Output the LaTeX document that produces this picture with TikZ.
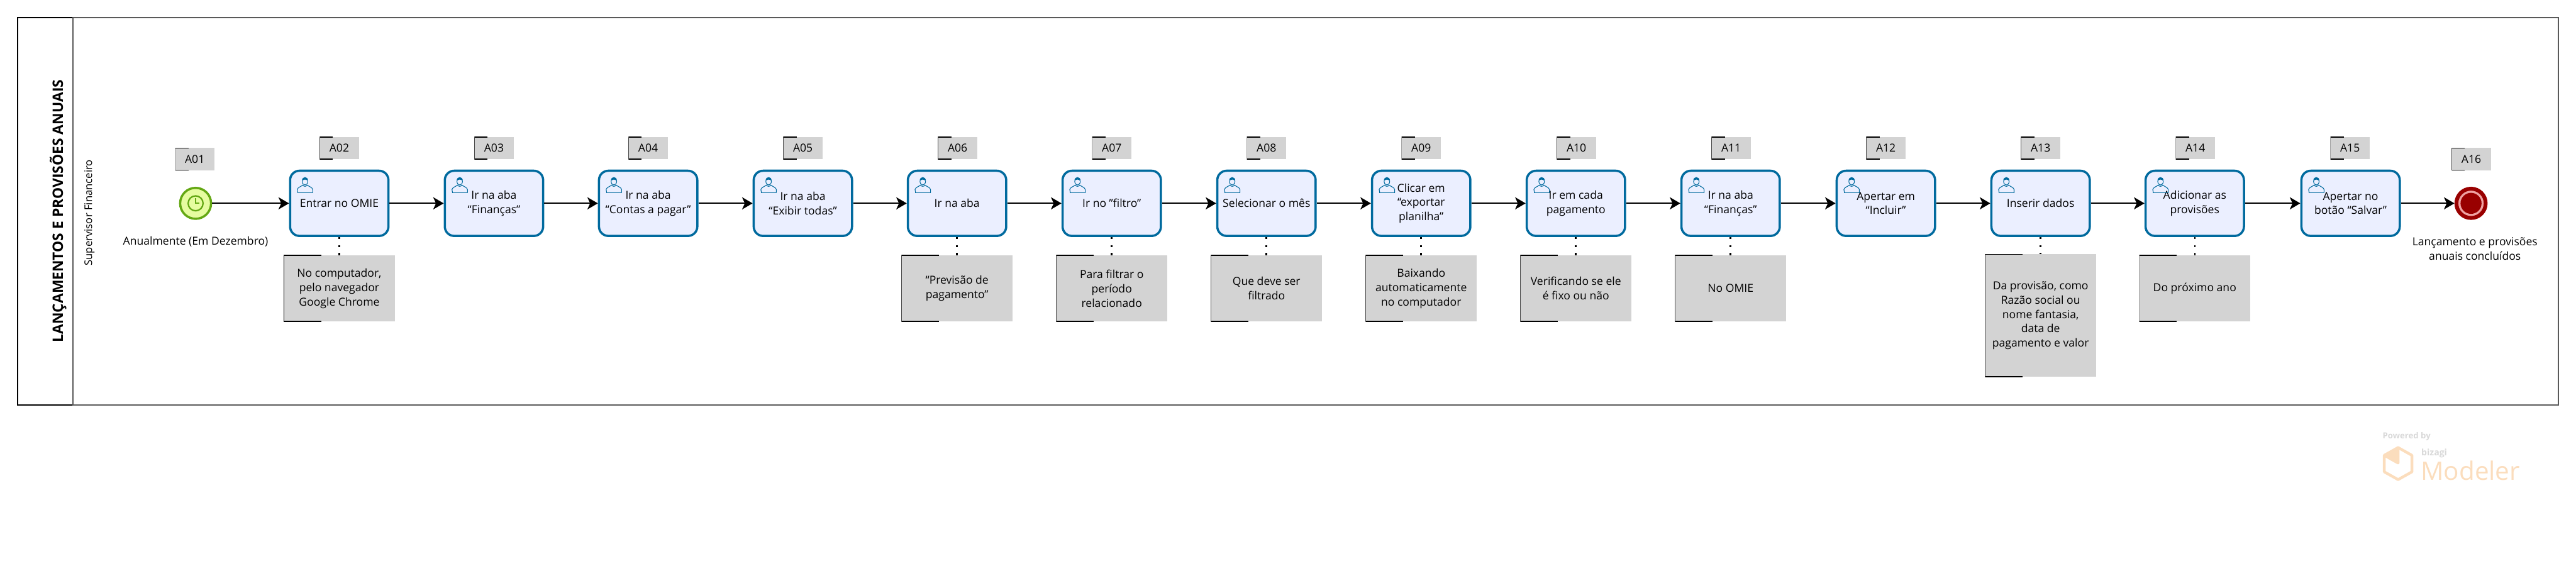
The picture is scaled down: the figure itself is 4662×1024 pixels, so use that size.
\documentclass[tikz,border=0pt]{standalone}
\usepackage{fontspec}
\setmainfont{Open Sans}
\usetikzlibrary{arrows.meta, positioning, calc}
\definecolor{cblue}{HTML}{006A9E}
\definecolor{ctask}{HTML}{EBEFFF}
\definecolor{cnote}{HTML}{D3D3D3}
\definecolor{cgrey}{HTML}{595959}
\definecolor{cgreen}{HTML}{64A814}
\definecolor{clime}{HTML}{E6FCA0}
\definecolor{cred}{HTML}{990000}
\definecolor{cpink}{HTML}{EFA3A3}
\definecolor{clogo}{HTML}{FBDDBD}
\definecolor{clogogrey}{HTML}{D8D8D8}
\newcommand{\bodyfont}{\fontsize{20pt}{26pt}\selectfont}
\tikzset{
  usericon/.pic={
    \draw[cblue, line width=1.2pt] (16,42) -- (15,36) .. controls (16,32) and (21,31) .. (25,28) .. controls (27,31) and (31,31) .. (33,28)
      .. controls (37,31) and (42,32) .. (43,36) -- (43,42);
    \draw[cblue, line width=1.2pt] (15,42) -- (43,42);
    \draw[cblue, line width=1.2pt] (24,21) .. controls (24,30) and (34,30) .. (34,21);
    \fill[cblue] (23.5,21) .. controls (23,11) and (35,11) .. (34.5,21) .. controls (31,17) and (27,17) .. (23.5,21);
  },
  taskbox/.style={draw=cblue, fill=ctask, line width=4pt, rounded corners=17pt, align=center, inner sep=0pt,
    minimum width=178pt, minimum height=118pt, font=\bodyfont,
    append after command={pic at (\tikzlastnode.north west) {usericon}}},
  tagbox/.style={fill=cnote, minimum width=71pt, minimum height=40pt, inner sep=0pt, font=\bodyfont,
    path picture={\draw[line width=2pt] ($(path picture bounding box.north west)+(24,0)$) -- (path picture bounding box.north west)
      -- (path picture bounding box.south west) -- ++(24,0);}},
  notebox/.style={fill=cnote, minimum width=201pt, minimum height=120pt, inner sep=0pt, align=center, font=\bodyfont,
    path picture={\draw[line width=2pt] ($(path picture bounding box.north west)+(68,0)$) -- (path picture bounding box.north west)
      -- (path picture bounding box.south west) -- ++(68,0);}},
  label/.style={align=center, inner sep=0pt, font=\bodyfont},
  arrow/.style={-{Stealth[length=19pt, width=22pt, inset=5pt]}, line width=2.6pt},
  assoc/.style={line width=3pt, dash pattern=on 4pt off 10.5pt},
  startevent/.style={circle, draw=cgreen, fill=clime, line width=4pt, minimum size=56pt, inner sep=0pt,
    path picture={
      \draw[cgreen, line width=2.6pt] (path picture bounding box.center) circle (13.5pt);
      \draw[cgreen, line width=2.6pt] ($(path picture bounding box.center)+(0,-9)$) -- (path picture bounding box.center) -- ++(7,0);}},
  endevent/.style={circle, draw=cred, fill=cpink, line width=7pt, minimum size=53pt, inner sep=0pt,
    path picture={\fill[cred] (path picture bounding box.center) circle (19pt);}},
}

\begin{document}
\begin{tikzpicture}[x=1pt, y=-1pt]
  \useasboundingbox (0,0) rectangle (4662,1024);
  % pool
  \node[draw=black, line width=3pt, minimum width=100pt, minimum height=701pt, inner sep=0pt] (header) at (82,382.5) {};
  \node[draw=cgrey, line width=3pt, minimum width=4498pt, minimum height=701pt, inner sep=0pt] (lane) at (2381,382.5) {};
  \node[rotate=90, font=\fontsize{26pt}{30pt}\selectfont\bfseries, inner sep=0pt] (title) at (105,382) {LANÇAMENTOS E PROVISÕES ANUAIS};
  \node[rotate=90, font=\fontsize{19pt}{26pt}\selectfont, inner sep=0pt] (role) at (162,385) {Supervisor Financeiro};

  % events
  \node[startevent] (a01) at (354,368) {};
  \node[endevent] (a16) at (4472,368) {};
  \node[label] (l01) at (354,437) {Anualmente (Em Dezembro)};
  \node[label] (l16) at (4479,450) {Lançamento e provisões\\anuais concluídos};

  % tasks
  \node[taskbox] (a02) at (614,368) {Entrar no OMIE};
  \node[taskbox] (a03) at (894,368) {Ir na aba\\“Finanças”};
  \node[taskbox] (a04) at (1173,368) {Ir na aba\\“Contas a pagar”};
  \node[taskbox] (a05) at (1453,368) {Ir na aba\\“Exibir todas”};
  \node[taskbox] (a06) at (1732,368) {Ir na aba};
  \node[taskbox] (a07) at (2012,368) {Ir no "filtro"};
  \node[taskbox] (a08) at (2292,368) {Selecionar o mês};
  \node[taskbox] (a09) at (2572,368) {Clicar em\\“exportar\\planilha”};
  \node[taskbox] (a10) at (2852,368) {Ir em cada\\pagamento};
  \node[taskbox] (a11) at (3132,368) {Ir na aba\\“Finanças”};
  \node[taskbox] (a12) at (3413,368) {Apertar em\\“Incluir”};
  \node[taskbox] (a13) at (3693,368) {Inserir dados};
  \node[taskbox] (a14) at (3972,368) {Adicionar as\\provisões};
  \node[taskbox] (a15) at (4254,368) {Apertar no\\botão “Salvar”};

  % codes
  \node[tagbox] (c01) at (352.5,288) {A01};
  \node[tagbox] (c02) at (614,268) {A02};
  \node[tagbox] (c03) at (894,268) {A03};
  \node[tagbox] (c04) at (1173,268) {A04};
  \node[tagbox] (c05) at (1453,268) {A05};
  \node[tagbox] (c06) at (1733,268) {A06};
  \node[tagbox] (c07) at (2012,268) {A07};
  \node[tagbox] (c08) at (2292,268) {A08};
  \node[tagbox] (c09) at (2572,268) {A09};
  \node[tagbox] (c10) at (2853,268) {A10};
  \node[tagbox] (c11) at (3133,268) {A11};
  \node[tagbox] (c12) at (3413,268) {A12};
  \node[tagbox] (c13) at (3693,268) {A13};
  \node[tagbox] (c14) at (3973,268) {A14};
  \node[tagbox] (c15) at (4253,268) {A15};
  \node[tagbox] (c16) at (4472.5,288) {A16};

  % notes
  \node[notebox] (n02) at (614,522) {No computador,\\pelo navegador\\Google Chrome};
  \node[notebox] (n06) at (1732,522) {“Previsão de\\pagamento”};
  \node[notebox] (n07) at (2012,522) {Para filtrar o\\período\\relacionado};
  \node[notebox] (n08) at (2292,522) {Que deve ser\\filtrado};
  \node[notebox] (n09) at (2572,522) {Baixando\\automaticamente\\no computador};
  \node[notebox] (n10) at (2852,522) {Verificando se ele\\é fixo ou não};
  \node[notebox] (n11) at (3132,522) {No OMIE};
  \node[notebox, minimum height=222pt] (n13) at (3693,571) {Da provisão, como\\Razão social ou\\nome fantasia,\\data de\\pagamento e valor};
  \node[notebox] (n14) at (3972,522) {Do próximo ano};

  % flow
  \draw[arrow] (a01) -- (a02);
  \draw[arrow] (a02) -- (a03);
  \draw[arrow] (a03) -- (a04);
  \draw[arrow] (a04) -- (a05);
  \draw[arrow] (a05) -- (a06);
  \draw[arrow] (a06) -- (a07);
  \draw[arrow] (a07) -- (a08);
  \draw[arrow] (a08) -- (a09);
  \draw[arrow] (a09) -- (a10);
  \draw[arrow] (a10) -- (a11);
  \draw[arrow] (a11) -- (a12);
  \draw[arrow] (a12) -- (a13);
  \draw[arrow] (a13) -- (a14);
  \draw[arrow] (a14) -- (a15);
  \draw[arrow] (a15) -- (a16);
  \draw[assoc] (a02) -- (n02);
  \draw[assoc] (a06) -- (n06);
  \draw[assoc] (a07) -- (n07);
  \draw[assoc] (a08) -- (n08);
  \draw[assoc] (a09) -- (n09);
  \draw[assoc] (a10) -- (n10);
  \draw[assoc] (a11) -- (n11);
  \draw[assoc] (a13) -- (n13);
  \draw[assoc] (a14) -- (n14);

  % logo
  \node[text=clogogrey, font=\fontsize{15pt}{18pt}\selectfont\bfseries, inner sep=0pt, anchor=west] (powered) at (4312,790) {Powered by};
  \node[text=clogogrey, font=\fontsize{16pt}{18pt}\selectfont\bfseries, inner sep=0pt, anchor=west] (bizagi) at (4382,820) {bizagi};
  \node[text=clogo, font=\fontsize{46pt}{50pt}\selectfont, inner sep=0pt, anchor=west] (modeler) at (4381,852) {Modeler};
  \fill[clogo] (4340,810) -- (4316,824) -- (4340,838) -- cycle;
  \draw[clogo, line width=5pt, line join=round] (4340,810) -- (4365,824) -- (4365,854) -- (4340,868) -- (4315,854) -- (4315,824) -- cycle;
  \draw[clogo, line width=5pt, line join=round] (4315,824) -- (4340,838) -- (4340,810);
\end{tikzpicture}
\end{document}
